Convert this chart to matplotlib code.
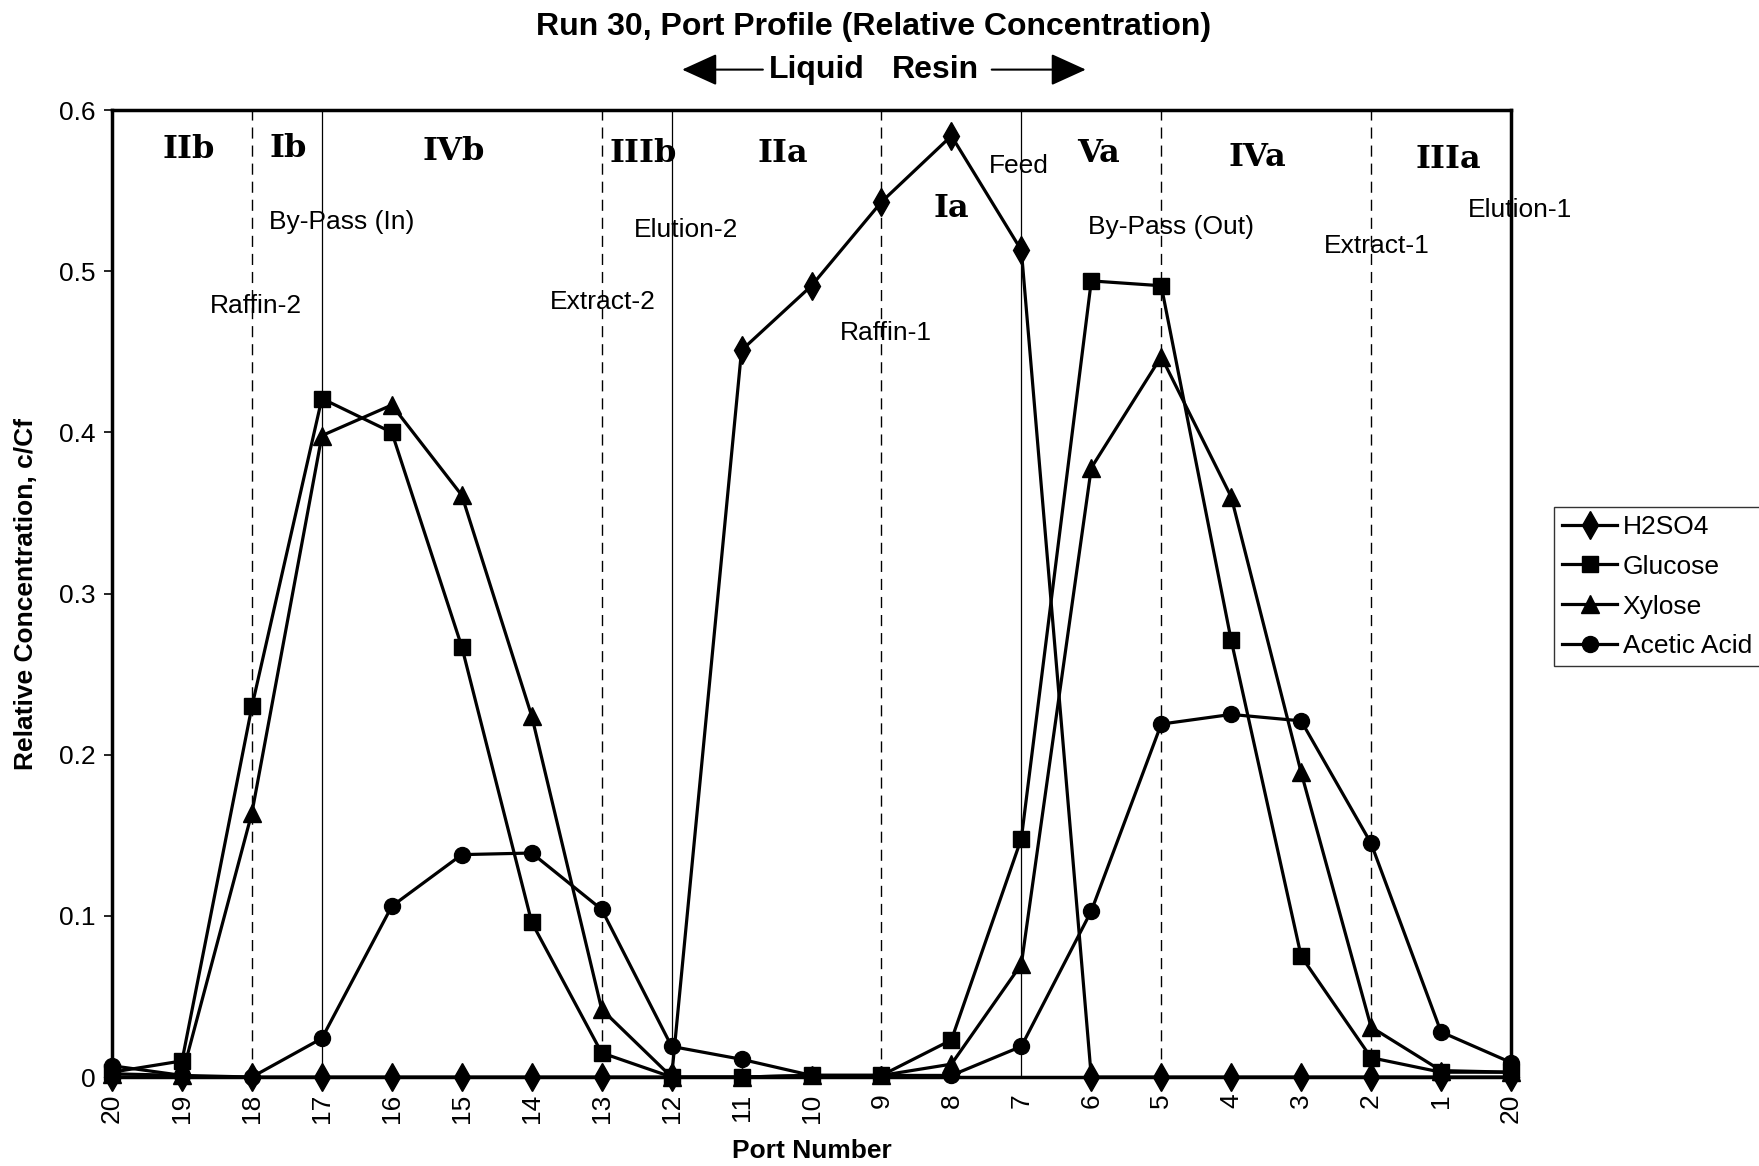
import numpy
import matplotlib
matplotlib.use('Agg')
from matplotlib import pyplot
from matplotlib.patches import FancyArrowPatch

# port sequence along the x axis (left to right)
ports = ['20', '19', '18', '17', '16', '15', '14', '13', '12', '11', '10',
         '9', '8', '7', '6', '5', '4', '3', '2', '1', '20']

# relative concentrations c/Cf
h2so4 = [0.0, 0.0, 0.0, 0.0, 0.0, 0.0, 0.0, 0.0, 0.0, 0.451, 0.491,
         0.543, 0.584, 0.513, 0.0, 0.0, 0.0, 0.0, 0.0, 0.0, 0.0]
glucose = [0.003, 0.010, 0.230, 0.421, 0.400, 0.267, 0.096, 0.015, 0.0, 0.0, 0.001,
           0.001, 0.023, 0.148, 0.494, 0.491, 0.271, 0.075, 0.012, 0.003, 0.003]
xylose = [0.002, 0.001, 0.164, 0.398, 0.417, 0.361, 0.224, 0.042, 0.0, 0.0, 0.001,
          0.001, 0.008, 0.070, 0.378, 0.447, 0.360, 0.189, 0.031, 0.004, 0.003]
acetic = [0.007, 0.001, 0.0, 0.024, 0.106, 0.138, 0.139, 0.104, 0.019, 0.011, 0.001,
          0.001, 0.001, 0.019, 0.103, 0.219, 0.225, 0.221, 0.145, 0.028, 0.009]

# zone boundaries (index along the port axis)
dashed_ports = [2, 7, 11, 15, 18]
solid_ports = [3, 8, 13]

# zone names and stream names drawn inside the plot
zone_names = ['IIb', 'Ib', 'IVb', 'IIIb', 'IIa', 'Ia', 'Va', 'IVa', 'IIIa']
zone_xy = [(1.09, 0.5756), (2.52, 0.5763), (4.88, 0.5742), (7.59, 0.5728),
           (9.59, 0.5728), (12.0, 0.5387), (14.10, 0.5728), (16.38, 0.5707),
           (19.10, 0.5694)]
stream_names = ['By-Pass (In)', 'Raffin-2', 'Elution-2', 'Extract-2', 'Raffin-1',
                'Feed', 'By-Pass (Out)', 'Extract-1', 'Elution-1']
stream_xy = [(3.29, 0.5304), (2.05, 0.4782), (8.21, 0.5255), (7.01, 0.481),
             (11.07, 0.4615), (12.97, 0.5652), (15.14, 0.5276), (18.08, 0.5158),
             (20.13, 0.538)]


def main():
  pyplot.rcParams['font.family'] = ['Liberation Sans', 'DejaVu Sans']
  fig = pyplot.figure(figsize=(17.59, 11.66), dpi=100)
  ax = fig.add_axes([0.0637, 0.0763, 0.7953, 0.8293])

  x = numpy.arange(len(ports))
  kw = {'color': 'black', 'linewidth': 2.3, 'zorder': 5, 'clip_on': False}
  ax.plot(x, h2so4, marker='d', markersize=14, label='H2SO4', **kw)
  ax.plot(x, glucose, marker='s', markersize=11.5, label='Glucose', **kw)
  ax.plot(x, xylose, marker='^', markersize=12.5, label='Xylose', **kw)
  ax.plot(x, acetic, marker='o', markersize=11.5, label='Acetic Acid', **kw)

  for p in dashed_ports:
    ax.axvline(p, color='black', linewidth=1.0, linestyle=(0, (8, 5)), zorder=2)
  for p in solid_ports:
    ax.axvline(p, color='black', linewidth=0.9, zorder=2)

  for name, (px, py) in zip(zone_names, zone_xy):
    ax.text(px, py, name, ha='center', va='center', fontsize=23,
            family='DejaVu Serif', fontweight='heavy', zorder=6)
  for name, (px, py) in zip(stream_names, stream_xy):
    ax.text(px, py, name, ha='center', va='center', fontsize=19,
            zorder=6, clip_on=False)

  ax.set_xlim(0, 20)
  ax.set_ylim(0, 0.6)
  ax.set_xticks(x)
  ax.set_xticklabels(ports, rotation=90, fontsize=19)
  ax.set_yticks([0, 0.1, 0.2, 0.3, 0.4, 0.5, 0.6])
  ax.set_yticklabels(['0', '0.1', '0.2', '0.3', '0.4', '0.5', '0.6'], fontsize=19)
  ax.tick_params(axis='x', length=0, pad=12)
  ax.tick_params(axis='y', length=6, width=1.2, pad=6)
  for side in ['left', 'top', 'right', 'bottom']:
    ax.spines[side].set_linewidth(2.5)

  ax.set_xlabel('Port Number', fontsize=19, fontweight='bold')
  ax.xaxis.set_label_coords(0.5, -0.064)
  ax.set_ylabel('Relative Concentration, c/Cf', fontsize=19, fontweight='bold')
  ax.yaxis.set_label_coords(-0.053, 0.5)

  # title and flow direction
  fig.text(0.4968, 0.9769, 'Run 30, Port Profile (Relative Concentration)',
           ha='center', va='center', fontsize=23, fontweight='bold')
  fig.text(0.4643, 0.9403, 'Liquid', ha='center', va='center',
           fontsize=23, fontweight='bold')
  fig.text(0.5319, 0.9403, 'Resin', ha='center', va='center',
           fontsize=23, fontweight='bold')
  arrow_kw = {'transform': fig.transFigure, 'color': 'black', 'linewidth': 1.5,
              'arrowstyle': '-|>,head_length=1.1,head_width=0.5',
              'mutation_scale': 20, 'shrinkA': 0, 'shrinkB': 0}
  fig.add_artist(FancyArrowPatch((0.4337, 0.9403), (0.3878, 0.9403), **arrow_kw))
  fig.add_artist(FancyArrowPatch((0.5638, 0.9403), (0.6173, 0.9403), **arrow_kw))

  leg = ax.legend(loc='upper left', bbox_to_anchor=(0.8834, 0.5652),
                  bbox_transform=fig.transFigure, fontsize=19, frameon=True,
                  fancybox=False, borderaxespad=0, borderpad=0.3,
                  handlelength=2.1, handletextpad=0.2, labelspacing=0.6)
  leg.get_frame().set_edgecolor('black')
  leg.get_frame().set_linewidth(1.0)

  fig.savefig('out.png', dpi=100)


if __name__ == '__main__':
  main()
